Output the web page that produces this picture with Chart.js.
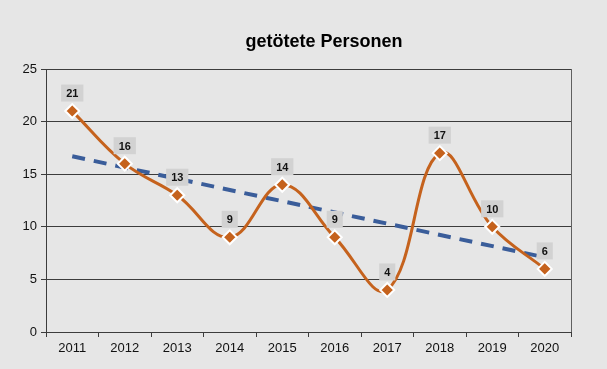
<!DOCTYPE html>
<html>
<head>
<meta charset="utf-8">
<script src="https://cdn.jsdelivr.net/npm/chart.js@4/dist/chart.umd.min.js"></script>
<style>
  html, body { margin: 0; padding: 0; background: #e6e6e6; }
  #wrap { position: relative; width: 607px; height: 369px; }
  #frame { position: absolute; left: 3px; top: -2px; width: 596px; height: 380px; border: 1px solid #c4c4c4; }
  canvas { position: absolute; left: 0; top: 0; }
</style>
</head>
<body>
<div id="wrap">
  <div id="frame"></div>
  <canvas id="chart" width="607" height="369"></canvas>
</div>
<script>
// Daten aus der Grafik
var jahre = ["2011", "2012", "2013", "2014", "2015", "2016", "2017", "2018", "2019", "2020"];
var getoetet = [21, 16, 13, 9, 14, 9, 4, 17, 10, 6];
// Trendlinie: nur Anfangs- und Endwert, dazwischen verbunden
var trend = [16.7, null, null, null, null, null, null, null, null, 7.1];
var yTicks = [0, 5, 10, 15, 20, 25];

var titel = "getötete Personen";
var orange = "#c5621d";
var blau = "#3a5d9a";
var achse = "#3c3c3c";
var schrift = "'Liberation Sans', Arial, sans-serif";

// Hintergrund, Rahmen, Titel und Wertebeschriftungen
var extras = {
  id: "extras",
  beforeDraw: function (chart) {
    var ctx = chart.ctx;
    ctx.save();
    ctx.fillStyle = "#e6e6e6";
    ctx.fillRect(0, 0, chart.width, chart.height);
    ctx.restore();
  },
  afterDatasetsDraw: function (chart) {
    var ctx = chart.ctx;
    var a = chart.chartArea;
    ctx.save();
    // rechter Rahmen
    ctx.strokeStyle = "#606060";
    ctx.lineWidth = 1;
    ctx.beginPath();
    ctx.moveTo(Math.round(a.right) + 0.5, a.top);
    ctx.lineTo(Math.round(a.right) + 0.5, a.bottom);
    ctx.stroke();

    // Wertebeschriftungen
    var meta = chart.getDatasetMeta(0);
    ctx.font = "bold 11px " + schrift;
    ctx.textAlign = "center";
    ctx.textBaseline = "middle";
    meta.data.forEach(function (pt, i) {
      var txt = String(getoetet[i]);
      var w = ctx.measureText(txt).width + 10;
      var h = 17;
      var cy = pt.y - 18;
      ctx.fillStyle = "#d2d2d2";
      ctx.fillRect(pt.x - w / 2, cy - h / 2, w, h);
      ctx.fillStyle = "#111";
      ctx.fillText(txt, pt.x, cy + 1);
    });

    // Titel
    ctx.fillStyle = "#000";
    ctx.font = "bold 18px " + schrift;
    ctx.fillText(titel, 324, 42);
    ctx.restore();
  }
};

var ctx = document.getElementById("chart");
var myChart = new Chart(ctx, {
  type: "line",
  data: {
    labels: jahre,
    datasets: [
      {
        label: "getötete Personen",
        data: getoetet,
        borderColor: orange,
        backgroundColor: orange,
        borderWidth: 3,
        tension: 0.4,
        pointStyle: "rectRot",
        pointRadius: 7,
        pointBorderWidth: 2,
        pointBorderColor: "#ffffff",
        pointBackgroundColor: orange,
        order: 0
      },
      {
        label: "Trend",
        data: trend,
        spanGaps: true,
        borderColor: blau,
        borderWidth: 4,
        borderDash: [13, 9],
        pointRadius: 0,
        tension: 0,
        order: 1
      }
    ]
  },
  plugins: [extras],
  options: {
    responsive: false,
    animation: false,
    events: [],
    layout: {
      padding: { top: 69, right: 36, bottom: 0, left: 0 }
    },
    plugins: {
      legend: { display: false },
      title: { display: false },
      tooltip: { enabled: false }
    },
    scales: {
      x: {
        offset: true,
        grid: {
          offset: true,
          drawOnChartArea: false,
          drawTicks: true,
          tickLength: 5,
          color: achse
        },
        border: { color: achse, width: 1 },
        ticks: {
          color: "#111",
          font: { family: schrift, size: 13 },
          padding: 4
        },
        afterFit: function (scale) { scale.height = 37; }
      },
      y: {
        min: 0,
        max: 25,
        afterBuildTicks: function (scale) {
          scale.ticks = yTicks.map(function (v) { return { value: v }; });
        },
        grid: {
          color: achse,
          lineWidth: 1,
          drawTicks: true,
          tickLength: 5
        },
        border: { color: achse, width: 1 },
        ticks: {
          color: "#111",
          font: { family: schrift, size: 13 },
          padding: 4
        },
        afterFit: function (scale) { scale.width = 46; }
      }
    }
  }
});
</script>
</body>
</html>
